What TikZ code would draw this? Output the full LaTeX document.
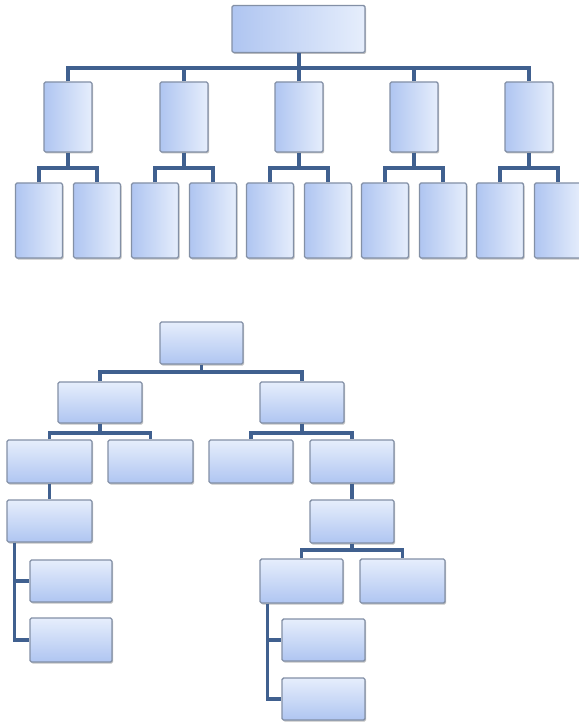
\documentclass[tikz,border=0pt]{standalone}
\usetikzlibrary{shadows}
\definecolor{boxedge}{HTML}{8390A6}
\definecolor{boxdark}{HTML}{AFC5F1}
\definecolor{boxlight}{HTML}{E6EEFC}
\definecolor{connc}{HTML}{40608F}
\tikzset{
  basebox/.style={draw=boxedge, line width=1.4pt, rounded corners=1.5pt, inner sep=0pt,
    drop shadow={shadow xshift=1.2pt, shadow yshift=-1.5pt, opacity=0.4, fill=black!60}},
  hbox/.style={basebox, left color=boxdark, right color=boxlight},
  vbox/.style={basebox, top color=boxlight, bottom color=boxdark},
  conn/.style={draw=connc, line width=4pt},
  connb/.style={draw=connc, line width=3.2pt},
}
\begin{document}
\begin{tikzpicture}[x=1pt,y=-1pt]
\useasboundingbox (0,0) rectangle (578,727);
\fill[white] (0,0) rectangle (578,727);
% ---------- top org chart ----------
\node[hbox, minimum width=133pt, minimum height=47pt] (top) at (298.5,29) {};
\foreach \i/\x in {1/68,2/184,3/299,4/414,5/529}{
  \node[hbox, minimum width=48pt, minimum height=70pt] (m\i) at (\x,117) {};
  \node[hbox, minimum width=47pt, minimum height=75pt] (c\i a) at (\x-29,220.5) {};
  \node[hbox, minimum width=47pt, minimum height=75pt] (c\i b) at (\x+29,220.5) {};
  \coordinate (s\i) at (\x,168);
}
\coordinate (b0) at (298.5,68);
\draw[conn] (top.south) -- (b0);
\draw[conn] (m1.north) |- (b0) -| (m5.north);
\foreach \i in {2,3,4}{ \draw[conn] (m\i.north) -- (m\i.north |- b0); }
\foreach \i in {1,...,5}{
  \draw[conn] (m\i.south) -- (s\i);
  \draw[conn] (c\i a.north) |- (s\i) -| (c\i b.north);
}
% ---------- bottom org chart ----------
\node[vbox, minimum width=83pt, minimum height=42pt] (r0) at (201.5,343) {};
\node[vbox, minimum width=84pt, minimum height=41pt] (L) at (100,402.5) {};
\node[vbox, minimum width=84pt, minimum height=41pt] (R) at (302,402.5) {};
\node[vbox, minimum width=85pt, minimum height=43pt] (LL) at (49.5,461.5) {};
\node[vbox, minimum width=85pt, minimum height=43pt] (LR) at (150.5,461.5) {};
\node[vbox, minimum width=84pt, minimum height=43pt] (RL) at (251,461.5) {};
\node[vbox, minimum width=84pt, minimum height=43pt] (RR) at (352,461.5) {};
\node[vbox, minimum width=85pt, minimum height=42pt] (LLC) at (49.5,521) {};
\node[vbox, minimum width=82pt, minimum height=42pt] (LLa) at (71,581) {};
\node[vbox, minimum width=82pt, minimum height=44pt] (LLb) at (71,640) {};
\node[vbox, minimum width=84pt, minimum height=43pt] (RRC) at (352,521.5) {};
\node[vbox, minimum width=83pt, minimum height=44pt] (RRL) at (301.5,581) {};
\node[vbox, minimum width=85pt, minimum height=44pt] (RRR) at (402.5,581) {};
\node[vbox, minimum width=83pt, minimum height=42pt] (RRa) at (323.5,640) {};
\node[vbox, minimum width=83pt, minimum height=42pt] (RRb) at (323.5,699) {};
\coordinate (q0) at (201.5,372);
\coordinate (qL) at (100,433);
\coordinate (qR) at (302,433);
\coordinate (qC) at (352,550);
\draw[connb] (r0.south) -- (q0);
\draw[connb] (L.north) |- (q0) -| (R.north);
\draw[connb] (L.south) -- (qL);
\draw[connb] (LL.north) |- (qL) -| (LR.north);
\draw[connb] (R.south) -- (qR);
\draw[connb] (RL.north) |- (qR) -| (RR.north);
\draw[connb] (LL.south) -- (LLC.north);
\draw[connb] ([xshift=8pt]LLC.south west) |- (LLa.west);
\draw[connb] ([xshift=8pt]LLC.south west) |- (LLb.west);
\draw[connb] (RR.south) -- (RRC.north);
\draw[connb] (RRC.south) -- (qC);
\draw[connb] (RRL.north) |- (qC) -| (RRR.north);
\draw[connb] ([xshift=8pt]RRL.south west) |- (RRa.west);
\draw[connb] ([xshift=8pt]RRL.south west) |- (RRb.west);
\end{tikzpicture}
\end{document}
